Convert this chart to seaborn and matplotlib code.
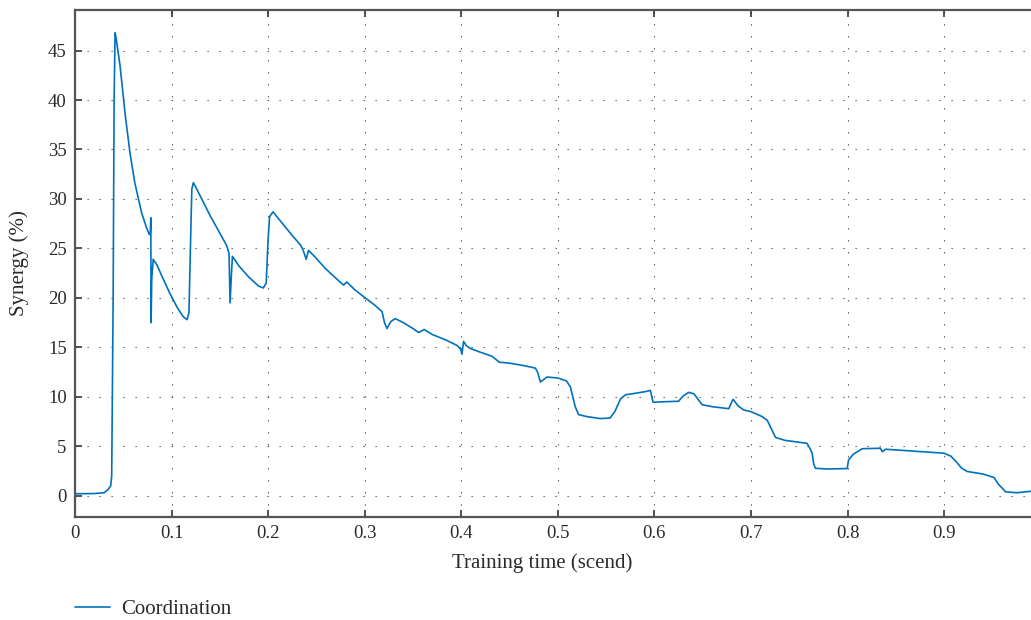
import numpy as np
import pandas as pd
import matplotlib
matplotlib.use("Agg")
import matplotlib.pyplot as plt
import seaborn as sns

# Valores
tiempo = [0.0, 0.02, 0.03, 0.034, 0.037, 0.038, 0.0395, 0.0405, 0.0415, 0.0425,
          0.0466, 0.052, 0.057, 0.062, 0.069, 0.074, 0.077, 0.078, 0.0785, 0.0788,
          0.0795, 0.081, 0.085, 0.09, 0.098, 0.106, 0.112, 0.116, 0.118, 0.1195,
          0.121, 0.1226, 0.125, 0.14, 0.157, 0.1595, 0.1606, 0.1618, 0.163, 0.17,
          0.18, 0.19, 0.195, 0.198, 0.2, 0.2015, 0.205, 0.215, 0.225, 0.233,
          0.236, 0.2394, 0.2418, 0.248, 0.259, 0.27, 0.278, 0.2815, 0.29, 0.3005,
          0.31, 0.318, 0.3205, 0.323, 0.327, 0.3316, 0.34, 0.35, 0.3558, 0.3617,
          0.37, 0.385, 0.3955, 0.3995, 0.4007, 0.4024, 0.405, 0.409, 0.42, 0.4318,
          0.4394, 0.45, 0.465, 0.4767, 0.479, 0.482, 0.4888, 0.5, 0.509, 0.513,
          0.516, 0.518, 0.5215, 0.53, 0.544, 0.554, 0.559, 0.565, 0.57, 0.58,
          0.592, 0.5959, 0.5986, 0.61, 0.625, 0.63, 0.6356, 0.641, 0.6494, 0.66,
          0.677, 0.6815, 0.6865, 0.6925, 0.7, 0.7116, 0.717, 0.722, 0.7254, 0.735,
          0.758, 0.761, 0.7634, 0.765, 0.7668, 0.78, 0.7997, 0.801, 0.806, 0.8152,
          0.834, 0.836, 0.8394, 0.87, 0.8998, 0.907, 0.912, 0.918, 0.924, 0.94,
          0.9516, 0.956, 0.9637, 0.975, 0.99]
sinergia = [0.2, 0.22, 0.3, 0.6, 1.0, 2.0, 20.0, 40.0, 46.8, 46.3,
            43.5, 38.5, 34.6, 31.6, 28.6, 27.1, 26.4, 26.6, 28.1, 17.5,
            22.0, 23.9, 23.3, 22.2, 20.5, 19.0, 18.1, 17.8, 18.5, 25.0,
            31.0, 31.65, 31.2, 28.3, 25.3, 24.5, 19.5, 22.0, 24.2, 23.2,
            22.1, 21.2, 21.0, 21.5, 26.0, 28.2, 28.7, 27.5, 26.3, 25.4,
            24.9, 23.9, 24.8, 24.2, 23.0, 22.0, 21.3, 21.6, 20.8, 20.0,
            19.3, 18.6, 17.5, 16.9, 17.6, 17.9, 17.5, 16.9, 16.5, 16.8,
            16.3, 15.7, 15.2, 14.8, 14.3, 15.6, 15.2, 14.9, 14.5, 14.1,
            13.5, 13.4, 13.15, 12.9, 12.5, 11.5, 12.0, 11.9, 11.6, 11.0,
            9.8, 9.0, 8.2, 8.0, 7.8, 7.85, 8.5, 9.8, 10.2, 10.35,
            10.55, 10.65, 9.45, 9.5, 9.55, 10.1, 10.45, 10.3, 9.2, 9.0,
            8.8, 9.75, 9.1, 8.67, 8.5, 8.0, 7.6, 6.6, 5.9, 5.6,
            5.3, 4.8, 4.3, 3.2, 2.77, 2.7, 2.75, 3.6, 4.2, 4.75,
            4.8, 4.45, 4.7, 4.5, 4.3, 4.0, 3.5, 2.8, 2.45, 2.2,
            1.85, 1.2, 0.4, 0.3, 0.45]

marcas_x = [0, 0.1, 0.2, 0.3, 0.4, 0.5, 0.6, 0.7, 0.8, 0.9]
etiquetas_x = ["0", "0.1", "0.2", "0.3", "0.4", "0.5", "0.6", "0.7", "0.8", "0.9"]
marcas_y = [0, 5, 10, 15, 20, 25, 30, 35, 40, 45]

df = pd.DataFrame({"tiempo": tiempo, "sinergia": sinergia, "serie": "Coordination"})

sns.set_theme(style="white")
plt.rcParams["font.family"] = ["Liberation Serif", "DejaVu Serif"]
texto = "#2b2b2b"
azul = "#0072BD"

fig = plt.figure(figsize=(10.31, 6.20), dpi=100)
ax = fig.add_axes([75 / 1031, 1 - 516.7 / 620, 1 - 75 / 1031, (516.7 - 10) / 620])

sns.lineplot(data=df, x="tiempo", y="sinergia", hue="serie", palette=[azul],
             sort=False, estimator=None, linewidth=1.2, ax=ax, legend=False)

ax.set_xlim(0, 0.99)
ax.set_ylim(-2.12, 49.1)
ax.set_xticks(marcas_x)
ax.set_xticklabels(etiquetas_x)
ax.set_yticks(marcas_y)

ax.grid(True, color="#555555", linewidth=0.8, linestyle=(0, (1.2, 9.6)))
ax.tick_params(axis="both", direction="in", length=5, width=1.2, color="#333333",
               labelsize=13.5, labelcolor=texto, pad=6)
ax.tick_params(axis="x", top=True, bottom=True)
ax.tick_params(axis="y", left=True, right=False)

for lado in ["left", "bottom", "top"]:
    ax.spines[lado].set_color("#555555")
    ax.spines[lado].set_linewidth(1.6)
ax.spines["right"].set_visible(False)

# posiciones de las etiquetas de los ejes (fracciones del eje)
ax.set_xlabel("Training time (scend)", fontsize=15, color=texto)
ax.set_ylabel("Synergy (%)", fontsize=15, color=texto)
ax.xaxis.set_label_coords((542 - 75) / (1031 - 75), -(553 - 516.7) / (516.7 - 10))
ax.yaxis.set_label_coords(-(75 - 29) / (1031 - 75), (516.7 - 263) / (516.7 - 10))

linea = plt.Line2D([], [], color=azul, linewidth=1.2)
fig.legend([linea], ["Coordination"], loc="center left",
           bbox_to_anchor=(75 / 1031, 1 - 609 / 620), frameon=False,
           borderpad=0, borderaxespad=0,
           fontsize=15, handlelength=1.68, handletextpad=0.53, labelcolor=texto)

fig.savefig("out.png", dpi=100)
